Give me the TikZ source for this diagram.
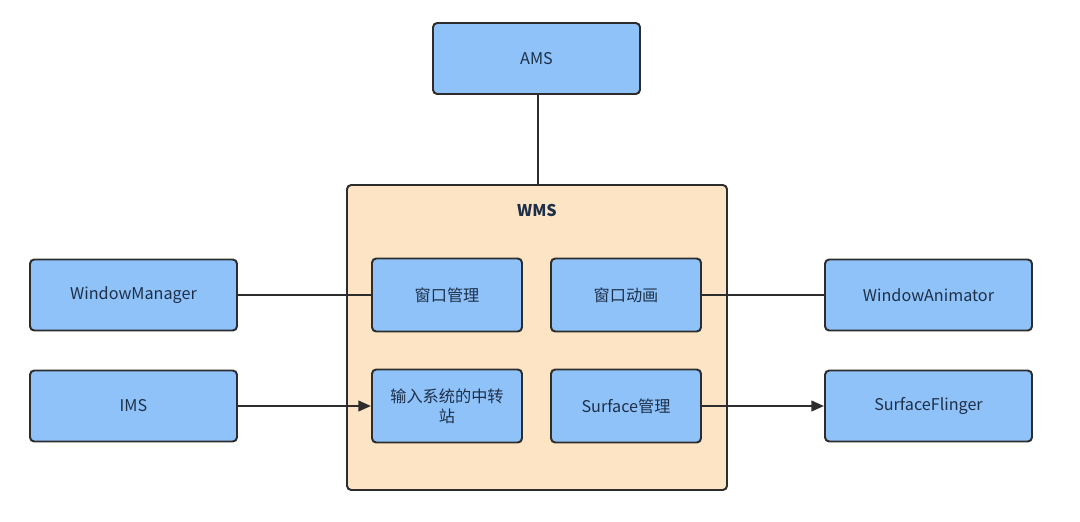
\documentclass[tikz,border=0pt]{standalone}
\usepackage{fontspec}
\setmainfont{Noto Sans CJK SC}
\usetikzlibrary{arrows.meta}
\definecolor{boxblue}{RGB}{143,194,249}
\definecolor{peach}{RGB}{252,228,196}
\definecolor{edge}{RGB}{45,45,45}
\definecolor{txt}{RGB}{30,48,72}
\begin{document}
\begin{tikzpicture}[x=0.025cm,y=-0.025cm,
  bluebox/.style={draw=edge,fill=boxblue,line width=1.4pt,rounded corners=3pt,
    minimum width=207*0.025cm,minimum height=71*0.025cm,text=txt,font=\fontsize{11.5}{14}\selectfont,inner sep=0pt},
  innerbox/.style={bluebox,minimum width=150*0.025cm,minimum height=73*0.025cm,align=center},
  link/.style={draw=edge,line width=1.6pt},
  arr/.style={link,-{Triangle[length=9pt,width=7.5pt]}}]
\useasboundingbox[fill=white] (0,0) rectangle (1080,521);
\node[draw=edge,fill=peach,line width=1.4pt,rounded corners=3pt,minimum width=380*0.025cm,minimum height=305*0.025cm,inner sep=0pt] (wms) at (537,337.5) {};
\node[text=txt,font=\fontsize{11.5}{14}\selectfont\bfseries] (wmslabel) at (537,210) {WMS};
\node[bluebox] (ams) at (536.5,58.5) {AMS};
\node[bluebox] (wm) at (133.5,295) {WindowManager};
\node[bluebox] (ims) at (133.5,406) {IMS};
\node[bluebox] (wa) at (928.5,295) {WindowAnimator};
\node[bluebox] (sf) at (928.5,406) {SurfaceFlinger};
\node[innerbox] (wgl) at (447,295) {窗口管理};
\node[innerbox] (wdh) at (626,295) {窗口动画};
\node[innerbox] (input) at (447,406) {输入系统的中转\\站};
\node[innerbox] (surf) at (626,406) {Surface管理};
\draw[link] (ams.south -| 538,0) -- (wms.north -| 538,0);
\draw[link] (wm) -- (wgl);
\draw[arr] (ims) -- (input);
\draw[link] (wdh) -- (wa);
\draw[arr] (surf) -- (sf);
\end{tikzpicture}
\end{document}
